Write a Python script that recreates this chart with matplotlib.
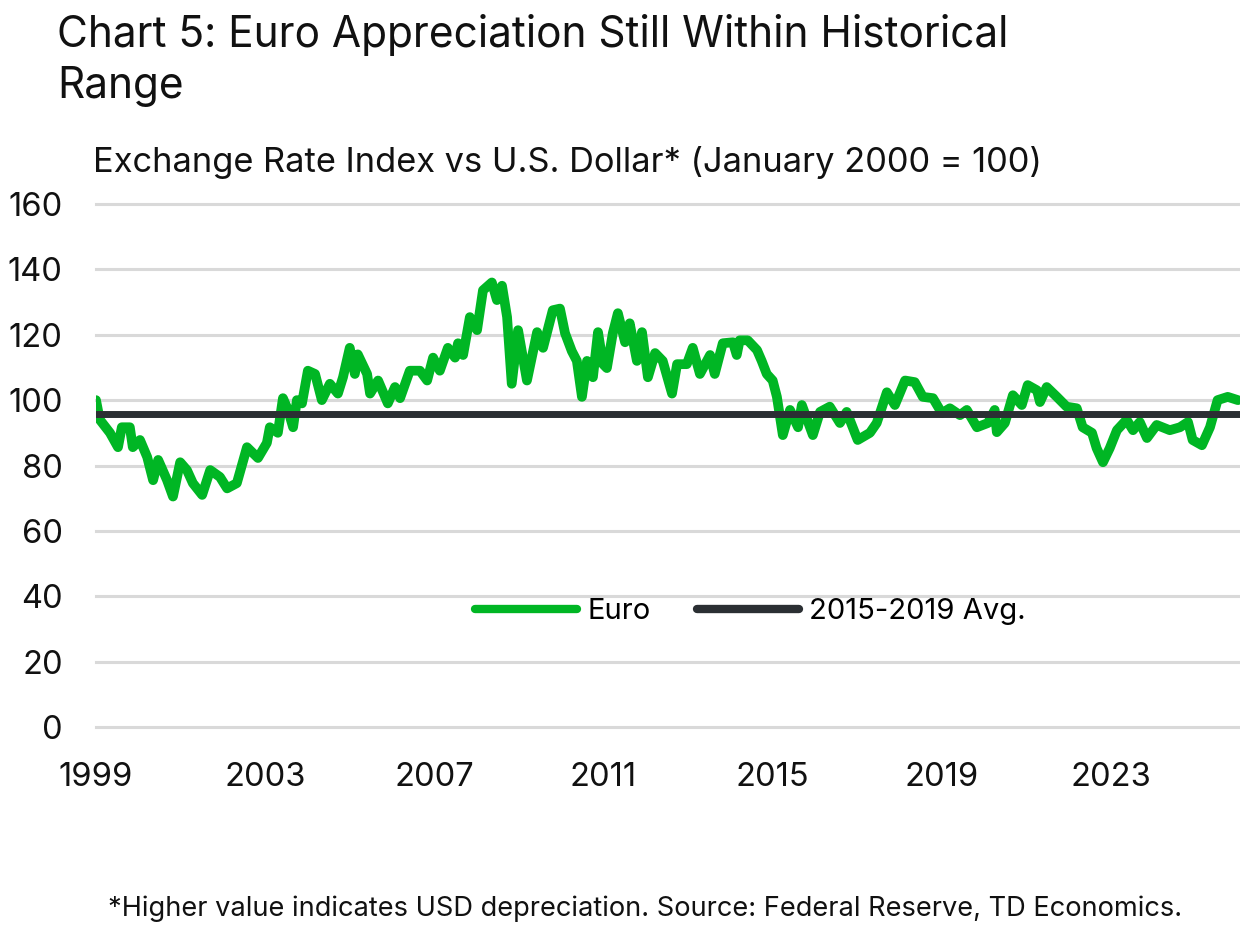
import matplotlib
matplotlib.use("Agg")
import matplotlib.pyplot as plt
import numpy as np

# ---------------- data ----------------
years = [1999.00, 1999.09, 1999.33, 1999.52, 1999.61, 1999.80, 1999.87, 2000.04, 2000.21, 2000.35,
         2000.47, 2000.68, 2000.82, 2000.99, 2001.15, 2001.29, 2001.51, 2001.70, 2001.93, 2002.10,
         2002.33, 2002.57, 2002.83, 2003.04, 2003.11, 2003.30, 2003.42, 2003.54, 2003.66, 2003.75,
         2003.87, 2004.01, 2004.18, 2004.34, 2004.53, 2004.72, 2004.84, 2005.00, 2005.12, 2005.19,
         2005.41, 2005.48, 2005.67, 2005.90, 2006.07, 2006.19, 2006.42, 2006.66, 2006.83, 2006.97,
         2007.13, 2007.32, 2007.49, 2007.56, 2007.68, 2007.84, 2008.01, 2008.15, 2008.36, 2008.48,
         2008.60, 2008.72, 2008.83, 2008.98, 2009.19, 2009.43, 2009.57, 2009.80, 2009.97, 2010.09,
         2010.25, 2010.37, 2010.49, 2010.61, 2010.75, 2010.87, 2010.99, 2011.08, 2011.22, 2011.34,
         2011.51, 2011.62, 2011.79, 2011.91, 2012.05, 2012.22, 2012.40, 2012.62, 2012.74, 2012.97,
         2013.11, 2013.28, 2013.52, 2013.63, 2013.82, 2014.06, 2014.15, 2014.22, 2014.41, 2014.63,
         2014.74, 2014.86, 2015.00, 2015.10, 2015.24, 2015.41, 2015.60, 2015.69, 2015.95, 2016.12,
         2016.35, 2016.59, 2016.75, 2017.01, 2017.30, 2017.46, 2017.70, 2017.89, 2018.13, 2018.36,
         2018.55, 2018.79, 2019.00, 2019.19, 2019.43, 2019.59, 2019.83, 2020.09, 2020.25, 2020.30,
         2020.49, 2020.68, 2020.89, 2021.03, 2021.25, 2021.32, 2021.48, 2021.72, 2021.95, 2022.19,
         2022.33, 2022.55, 2022.66, 2022.81, 2022.97, 2023.14, 2023.37, 2023.52, 2023.68, 2023.85,
         2024.08, 2024.39, 2024.63, 2024.82, 2024.93, 2025.15, 2025.34, 2025.52, 2025.76, 2026.00]
euro = [100.0, 94.0, 90.0, 85.6, 91.7, 91.7, 85.6, 87.8, 82.6, 75.5,
        81.7, 75.5, 70.5, 81.0, 78.6, 74.6, 71.0, 78.6, 76.5, 73.0,
        74.6, 85.6, 82.3, 86.9, 91.7, 90.0, 100.6, 97.0, 91.7, 100.0,
        99.0, 109.0, 108.0, 100.0, 105.0, 102.0, 107.0, 116.0, 108.0, 114.0,
        108.0, 102.0, 106.0, 99.0, 104.0, 100.6, 109.0, 109.0, 106.0, 113.0,
        109.0, 116.0, 113.0, 117.4, 113.8, 125.4, 121.4, 133.6, 136.0, 130.6,
        135.0, 125.4, 105.0, 121.4, 106.0, 120.8, 116.0, 127.5, 128.0, 120.5,
        115.0, 112.0, 101.0, 112.0, 107.0, 120.8, 111.0, 109.8, 120.5, 126.6,
        117.7, 123.5, 112.0, 120.8, 107.0, 114.4, 112.0, 102.0, 111.0, 111.0,
        116.0, 108.0, 113.8, 108.0, 117.4, 117.7, 113.8, 118.3, 118.3, 115.3,
        112.0, 108.0, 106.0, 101.0, 89.3, 97.0, 91.7, 98.5, 89.3, 96.4,
        98.0, 93.0, 96.4, 87.8, 90.0, 93.0, 102.4, 98.5, 106.0, 105.5,
        101.0, 100.6, 96.0, 97.5, 95.4, 97.0, 91.7, 93.0, 97.0, 90.2,
        93.0, 101.5, 98.5, 104.6, 103.0, 99.4, 104.0, 101.0, 98.0, 97.5,
        91.7, 90.0, 85.3, 81.0, 85.3, 90.8, 94.0, 90.8, 93.3, 88.4,
        92.4, 90.8, 91.7, 93.3, 87.8, 86.2, 91.7, 100.0, 101.0, 100.0]
avg_2015_2019 = 95.8
y_ticks = [0, 20, 40, 60, 80, 100, 120, 140, 160]
x_ticks = [1999, 2003, 2007, 2011, 2015, 2019, 2023]

title = "Chart 5: Euro Appreciation Still Within Historical\nRange"
subtitle = "Exchange Rate Index vs U.S. Dollar* (January 2000 = 100)"
footer = "*Higher value indicates USD depreciation. Source: Federal Reserve, TD Economics."

GREEN = "#00b624"
DARK = "#2b2f33"
GRID = "#d9d9d9"
TXT = "#111111"

plt.rcParams['font.family'] = ['Inter', 'DejaVu Sans']

W, H = 1240, 925
fig = plt.figure(figsize=(W / 100, H / 100), dpi=100)
ax = fig.add_axes([96 / W, 1 - 727 / H, 1 - 96 / W, (727 - 204) / H])

ax.plot(years, euro, color=GREEN, lw=7, solid_capstyle='round', solid_joinstyle='round',
        label='Euro', zorder=3)
ax.axhline(avg_2015_2019, color=DARK, lw=5, label='2015-2019 Avg.', zorder=4)

ax.set_xlim(1999.0, 2026.05)
ax.set_ylim(0, 160)
ax.set_yticks(y_ticks)
ax.set_xticks(x_ticks)
ax.set_xticklabels([str(x) for x in x_ticks])
ax.grid(axis='y', color=GRID, lw=2.2, zorder=0)
for gl in ax.get_ygridlines():
    gl.set_clip_on(False)
ax.set_axisbelow(True)
for s in ax.spines.values():
    s.set_visible(False)
ax.tick_params(axis='both', length=0, labelsize=23.5, colors=TXT)
ax.tick_params(axis='y', pad=24)
ax.tick_params(axis='x', pad=25)

leg = ax.legend(loc='center', bbox_to_anchor=(0.572, 0.22), ncol=2, frameon=False,
                fontsize=21, handlelength=3.5, handletextpad=0.35, columnspacing=1.6)
for h in leg.get_lines():
    h.set_solid_capstyle('round')
    h.set_linewidth(6)

fig.text(57 / W, 1 - 98 / H, title, fontsize=30.5, va='baseline', ha='left', color=TXT,
         linespacing=1.3)
fig.text(93 / W, 1 - 172 / H, subtitle, fontsize=24.8, va='baseline', ha='left', color=TXT)
fig.text(645 / W, 1 - 916 / H, footer, fontsize=19.6, va='baseline', ha='center', color=TXT)

fig.savefig("out.png", dpi=100)
